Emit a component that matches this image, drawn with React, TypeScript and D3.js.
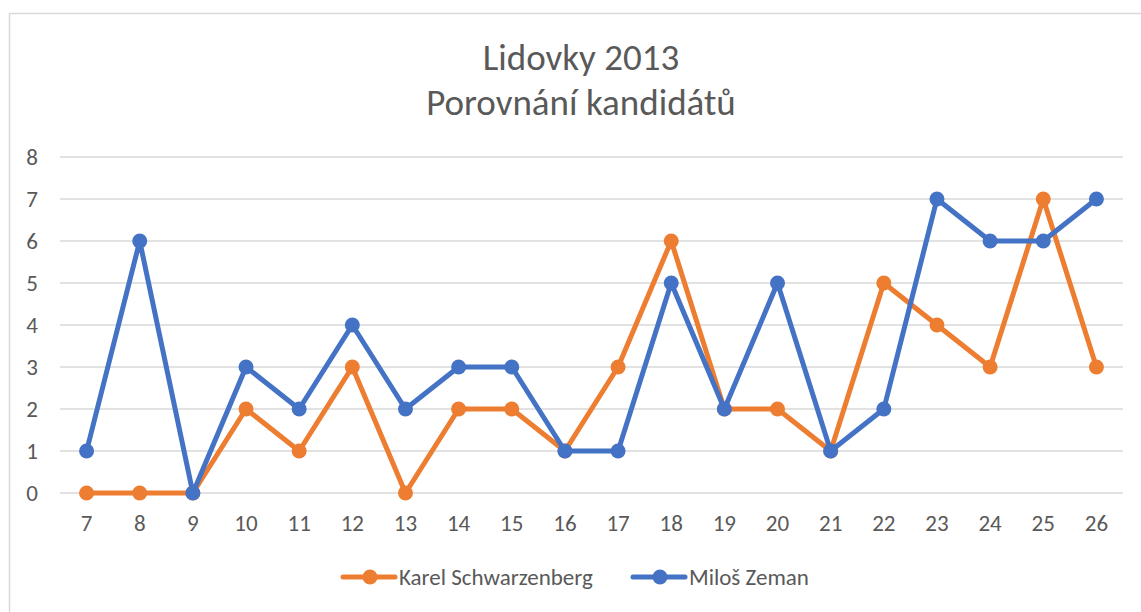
import React from "react";
import * as d3 from "d3";

const categories = ["7", "8", "9", "10", "11", "12", "13", "14", "15", "16", "17", "18", "19", "20", "21", "22", "23", "24", "25", "26"];
const schwarzenberg = [0, 0, 0, 2, 1, 3, 0, 2, 2, 1, 3, 6, 2, 2, 1, 5, 4, 3, 7, 3];
const zeman = [1, 6, 0, 3, 2, 4, 2, 3, 3, 1, 1, 5, 2, 5, 1, 2, 7, 6, 6, 7];
const yTicks = [0, 1, 2, 3, 4, 5, 6, 7, 8];

const series = [
    { name: "Karel Schwarzenberg", values: schwarzenberg, color: "#ED7D31" },
    { name: "Miloš Zeman", values: zeman, color: "#4472C4" },
];

const W = 1141;
const H = 612;
const font = "Calibri, Carlito, 'Open Sans', sans-serif";
const textColor = "#595959";

const App = () => {
    const plot = { left: 60, right: 1123, top: 157, bottom: 493 };

    const xScale = d3.scaleBand()
        .domain(categories)
        .range([plot.left, plot.right]);

    const yScale = d3.scaleLinear()
        .domain([0, 8])
        .range([plot.bottom, plot.top]);

    const cx = (c: string) => (xScale(c) as number) + xScale.bandwidth() / 2;

    const line = d3.line<number>()
        .x((_, i) => cx(categories[i]))
        .y(d => yScale(d));

    return (
        <svg width={W} height={H} style={{ position: "absolute", left: 0, top: 0, background: "#fff" }}>
            {/* chart frame */}
            <rect x={9.5} y={13.5} width={W + 20} height={H + 20} fill="#fff" stroke="#d9d9d9" strokeWidth={1.5} />

            {/* Title */}
            <text x={581} y={70} textAnchor="middle" fill={textColor} style={{ fontSize: "37px", fontFamily: font }}>
                Lidovky 2013
            </text>
            <text x={581} y={115} textAnchor="middle" fill={textColor} style={{ fontSize: "37px", fontFamily: font }}>
                Porovnání kandidátů
            </text>

            {/* Gridlines + y labels */}
            {yTicks.map(t => (
                <g key={t} transform={`translate(0, ${yScale(t)})`}>
                    <line x1={plot.left} x2={plot.right} stroke="#d9d9d9" strokeWidth={1.5} />
                    <text x={32} y={8} textAnchor="middle" fill={textColor} style={{ fontSize: "23px", fontFamily: font }}>
                        {t}
                    </text>
                </g>
            ))}

            {/* X labels */}
            {categories.map(c => (
                <text key={c} x={cx(c)} y={531} textAnchor="middle" fill={textColor} style={{ fontSize: "23px", fontFamily: font }}>
                    {c}
                </text>
            ))}

            {/* Series */}
            {series.map(s => (
                <g key={s.name}>
                    <path d={line(s.values) ?? ""} fill="none" stroke={s.color} strokeWidth={5} strokeLinejoin="round" />
                    {s.values.map((v, i) => (
                        <circle key={i} cx={cx(categories[i])} cy={yScale(v)} r={7.5} fill={s.color} />
                    ))}
                </g>
            ))}

            {/* Legend */}
            {series.map((s, i) => {
                const x0 = i === 0 ? 343 : 633;
                return (
                    <g key={s.name} transform={`translate(${x0}, 577)`}>
                        <line x1={0} x2={52} stroke={s.color} strokeWidth={5} strokeLinecap="round" />
                        <circle cx={27} cy={0} r={7.5} fill={s.color} />
                        <text x={56} y={8} fill={textColor} style={{ fontSize: "23px", fontFamily: font }}>
                            {s.name}
                        </text>
                    </g>
                );
            })}
        </svg>
    );
};

export default App;
